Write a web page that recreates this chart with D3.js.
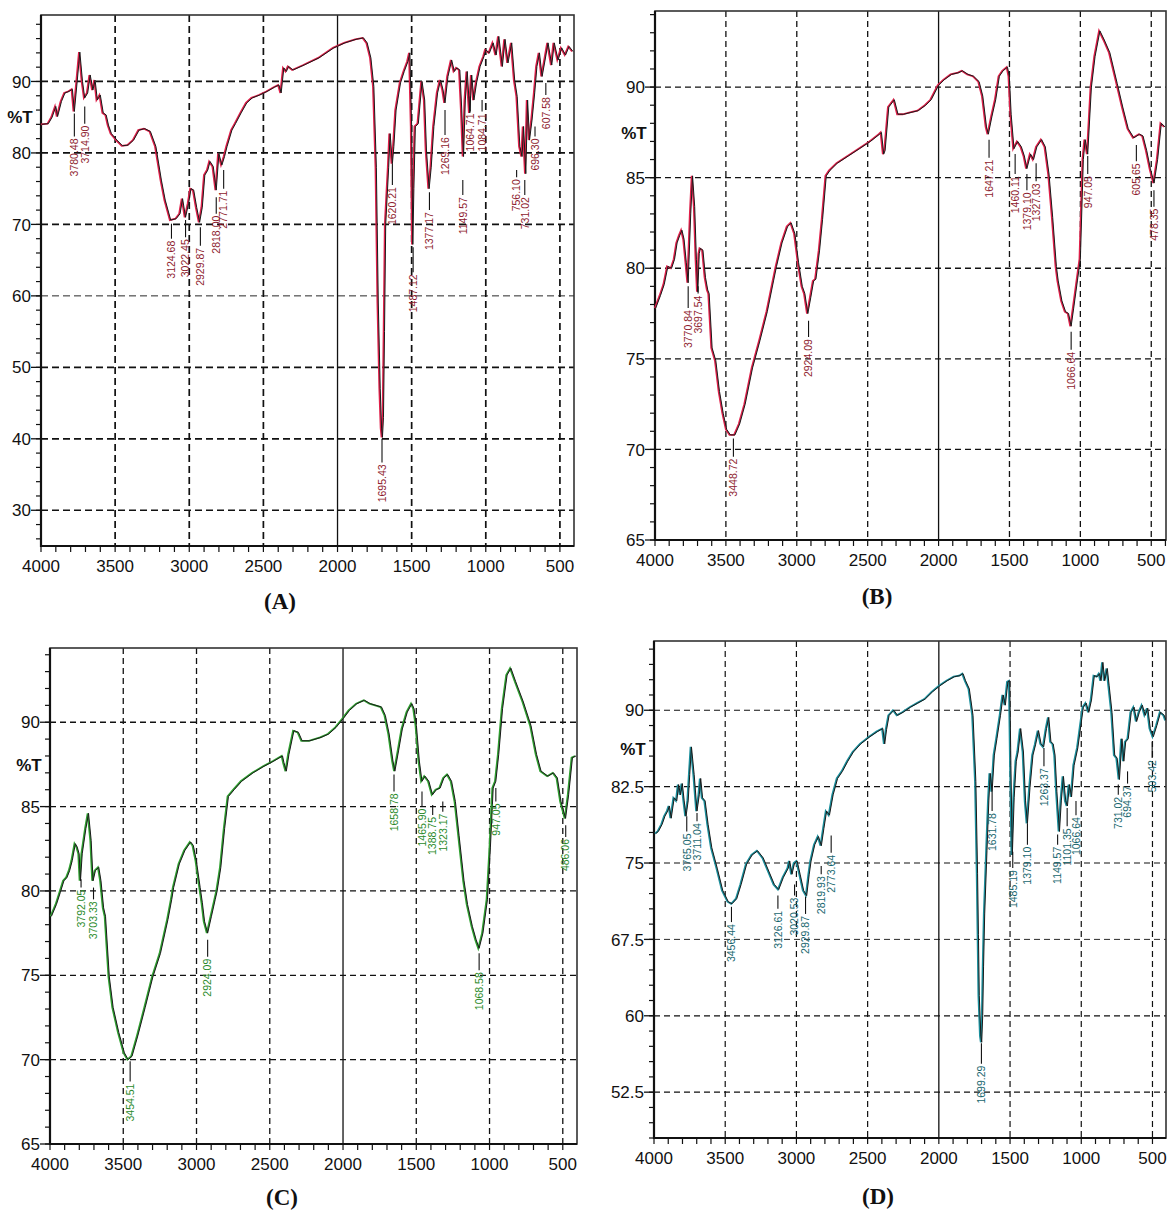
<!DOCTYPE html>
<html>
<head>
<meta charset="utf-8">
<script src="https://cdn.jsdelivr.net/npm/d3@7"></script>
<style>
    body { margin: 0; background: #fff; }
    svg { display: block; background: #fff; }
    .axis-label { font-family: "Liberation Sans Narrow", "Arial Narrow", "Liberation Sans", sans-serif; font-size: 17px; fill: #111; }
    .pct-label { font-family: "Liberation Sans Narrow", "Arial Narrow", "Liberation Sans", sans-serif; font-size: 17px; font-weight: bold; fill: #111; }
    .peak-label { font-family: "Liberation Sans", Arial, sans-serif; font-size: 10.5px; }
    .panel-title { font-family: "Liberation Serif", "Times New Roman", serif; font-size: 23px; font-weight: bold; fill: #111; }
</style>
</head>
<body>
<svg id="chart" width="1167" height="1214"></svg>
<script>
// wavenumber (cm-1), %T
const spectrumA = [[3995,84.0],[3950,84.1],[3925,85],[3900,86.5],[3888,85.1],[3862,87.2],[3838,88.4],[3812,88.6],[3788,88.9],[3775,85.8],[3755,90.2],[3738,94.1],[3720,90],[3705,87.7],[3685,88.4],[3668,90.9],[3650,88.8],[3635,90.2],[3620,87.4],[3600,88.1],[3580,85.6],[3560,85.3],[3545,83.9],[3525,82.7],[3488,81.8],[3450,81],[3412,81.1],[3375,81.8],[3338,83.2],[3300,83.4],[3262,83],[3225,80.9],[3188,76.2],[3162,73.4],[3125,70.6],[3088,70.8],[3062,71.5],[3045,73.6],[3025,71],[3005,72.9],[2988,75],[2970,74.8],[2950,72.4],[2930,70.3],[2912,72.4],[2895,76.9],[2875,77.6],[2860,78.8],[2838,78.1],[2818,74.8],[2800,79.9],[2780,78.3],[2762,79.5],[2745,80.9],[2712,83.2],[2688,84.1],[2650,85.6],[2612,87],[2575,87.7],[2525,88.1],[2475,88.6],[2425,89.2],[2395,89.5],[2380,88.4],[2362,91.9],[2345,91.4],[2330,92.1],[2300,91.6],[2225,92.3],[2125,93.3],[2025,94.7],[1950,95.4],[1875,95.9],[1825,96.1],[1800,95.4],[1775,93.3],[1755,89.3],[1738,78],[1725,59],[1712,47],[1703,41.5],[1697,40.2],[1690,43],[1683,55],[1675,70],[1655,78],[1645,82.7],[1630,78.5],[1620,80.9],[1605,86],[1575,89.8],[1550,91.4],[1525,92.8],[1512,94],[1500,83.7],[1492,67.2],[1485,75],[1475,83.7],[1455,84.1],[1430,90],[1412,87.4],[1400,80.4],[1382,75],[1368,78],[1350,83.7],[1325,88.4],[1305,90.2],[1288,88.8],[1275,87],[1255,90.7],[1230,93],[1212,91.4],[1195,91.9],[1175,91.6],[1162,86],[1150,79.5],[1138,87.4],[1125,91.4],[1108,85.6],[1095,90.9],[1080,87.4],[1062,89.8],[1038,92.1],[1012,93.5],[1000,94.4],[975,94],[950,95.4],[930,93.7],[912,96.3],[888,92.1],[870,95.9],[850,92.6],[825,95.4],[805,90.2],[788,87.9],[770,80.9],[755,79.5],[745,83.7],[730,77.1],[718,87.4],[705,81.8],[688,84.6],[670,88.4],[655,92.1],[638,94],[620,90.7],[600,93],[580,95.4],[555,92.3],[538,95.4],[512,93],[488,94.7],[462,93.7],[438,94.9],[412,94.2]];

const spectrumB = [[3995,77.8],[3961,78.5],[3935,79.1],[3909,80.1],[3883,80],[3862,80.5],[3844,81.4],[3826,81.8],[3810,82.1],[3795,81.6],[3779,80.3],[3766,79.2],[3748,83],[3735,85.1],[3720,83.4],[3708,80.5],[3698,78.7],[3688,80.8],[3680,81.1],[3662,81],[3644,79.5],[3628,78.8],[3618,78.6],[3597,75.6],[3571,74.9],[3545,73.2],[3519,72],[3494,71.1],[3468,70.8],[3436,70.8],[3403,71.4],[3364,72.5],[3312,74.5],[3260,76],[3208,77.6],[3164,79.3],[3143,80.1],[3104,81.4],[3065,82.3],[3039,82.5],[3013,81.9],[2987,80.3],[2961,79],[2943,78.6],[2922,77.5],[2901,78.4],[2881,79.3],[2865,79.4],[2839,81],[2818,82.7],[2792,85.1],[2766,85.4],[2714,85.8],[2636,86.2],[2558,86.6],[2481,87],[2416,87.4],[2403,87.5],[2387,86.3],[2377,86.5],[2351,88.9],[2312,89.3],[2286,88.5],[2247,88.5],[2195,88.6],[2143,88.7],[2091,89],[2052,89.3],[2000,90.1],[1961,90.4],[1909,90.7],[1857,90.8],[1831,90.9],[1792,90.7],[1753,90.6],[1714,90.3],[1688,89.5],[1662,87.8],[1649,87.4],[1623,88.4],[1597,89.3],[1571,90.6],[1545,90.9],[1514,91.1],[1501,90.6],[1488,88.5],[1468,86.6],[1442,87],[1416,86.7],[1395,86.2],[1377,85.5],[1351,86.3],[1330,86],[1307,86.7],[1273,87.1],[1247,86.7],[1221,85.2],[1195,82.8],[1169,80.1],[1156,79.3],[1130,78.2],[1104,77.6],[1083,77.5],[1065,76.8],[1047,77.8],[1021,79.3],[1000,80.5],[979,86],[966,87.1],[948,86.3],[922,90],[896,91.7],[862,93.1],[831,92.6],[792,91.9],[740,90.2],[701,88.9],[662,87.7],[623,87.2],[582,87.4],[558,87.3],[532,86.5],[506,85.5],[480,84.7],[455,86],[429,88],[403,87.8]];

const spectrumC = [[3990,78.5],[3956,79.2],[3930,79.9],[3905,80.6],[3884,80.8],[3866,81.2],[3848,81.8],[3827,82.8],[3814,82.6],[3801,82.2],[3792,80.6],[3780,82.2],[3755,83.7],[3737,84.6],[3719,83],[3706,80.6],[3690,81.2],[3667,81.4],[3652,80.6],[3634,79],[3621,78.5],[3595,74.9],[3569,73.1],[3530,71.6],[3492,70.4],[3466,70],[3440,70.2],[3401,71.4],[3350,73.1],[3298,74.9],[3246,76.3],[3195,78.3],[3169,79.5],[3156,80.2],[3117,81.6],[3079,82.4],[3040,82.9],[3022,82.7],[3001,81.8],[2975,80.2],[2960,79.3],[2945,78.2],[2924,77.5],[2898,78.5],[2872,79.5],[2859,80],[2834,81.4],[2808,83.7],[2782,85.6],[2743,86],[2692,86.5],[2614,87],[2537,87.4],[2472,87.7],[2413,88],[2403,87.6],[2387,87.1],[2369,88.1],[2335,89.5],[2304,89.4],[2279,88.9],[2227,88.9],[2150,89.1],[2098,89.3],[2047,89.7],[2000,90.2],[1956,90.7],[1905,91.1],[1853,91.3],[1814,91.1],[1775,91],[1737,90.9],[1711,90.4],[1685,89.3],[1659,87.7],[1646,87.1],[1621,88.3],[1595,89.6],[1561,90.6],[1530,91.1],[1515,90.8],[1499,89.8],[1479,87.7],[1461,86.5],[1440,86.8],[1414,86.5],[1389,85.7],[1363,86],[1337,86.1],[1311,86.7],[1285,86.9],[1259,86.5],[1233,85.3],[1208,83.3],[1174,80.6],[1150,79.2],[1117,77.9],[1091,77.1],[1071,76.6],[1045,77.5],[1014,79.5],[994,82.6],[975,86.1],[957,86.5],[937,88.1],[911,90.8],[880,92.8],[854,93.2],[821,92.4],[769,91.2],[717,89.8],[679,88.1],[648,87.1],[601,86.8],[563,87],[537,86.7],[512,85.3],[481,84.3],[460,85.7],[434,87.9],[410,88]];

const spectrumD = [[3987,77.9],[3969,78.1],[3943,78.8],[3923,79.6],[3904,80.1],[3892,80.6],[3879,79.4],[3858,81.4],[3840,81.1],[3827,82.7],[3814,81.7],[3801,82.8],[3788,81.1],[3775,79.6],[3760,81.1],[3749,83.7],[3737,86.4],[3718,83.7],[3698,80.1],[3682,81.7],[3672,83.3],[3659,81.4],[3641,81.1],[3620,78.8],[3594,76.5],[3556,74.5],[3517,72.3],[3478,71.2],[3452,71],[3419,71.5],[3388,72.9],[3349,74.9],[3310,75.8],[3272,76.2],[3233,75.5],[3194,74.2],[3155,72.9],[3124,72.4],[3091,73.6],[3057,74.5],[3047,75.2],[3031,73.9],[3013,75],[2995,75.2],[2974,73.9],[2949,72.3],[2928,71.8],[2910,73.9],[2897,75.2],[2871,76.8],[2845,77.6],[2825,76.7],[2807,78.4],[2788,80.1],[2768,79.7],[2742,81.7],[2711,83.3],[2677,84],[2639,85],[2600,85.9],[2548,86.7],[2484,87.4],[2432,87.9],[2393,88.2],[2380,86.7],[2367,88.1],[2349,89.5],[2329,89.8],[2316,90],[2290,89.5],[2251,89.8],[2199,90.3],[2148,90.7],[2096,91.1],[2045,91.8],[1993,92.4],[1941,92.9],[1890,93.3],[1851,93.4],[1830,93.6],[1812,92.9],[1786,92.1],[1760,89.5],[1740,83],[1728,74],[1722,68],[1716,62],[1705,58],[1699,57.4],[1692,60],[1686,64.8],[1678,70],[1662,76.2],[1649,81.1],[1639,83.8],[1626,82],[1610,85.6],[1592,87.2],[1567,89.5],[1548,91.5],[1533,90.5],[1515,92.8],[1502,92.9],[1494,84.6],[1484,75.8],[1471,81.4],[1456,85],[1443,85.9],[1425,88.2],[1406,85.9],[1391,81.1],[1378,78.9],[1360,82.4],[1339,85.6],[1321,86.6],[1300,88],[1282,86.7],[1264,86.4],[1244,88.2],[1228,89.3],[1213,86.9],[1197,86.7],[1184,85.6],[1171,82],[1153,78.1],[1140,81.1],[1125,83.5],[1109,81.1],[1097,80.6],[1083,82.7],[1068,81.5],[1050,84.6],[1024,86.3],[1003,88.5],[985,90.3],[965,90.7],[947,89.8],[928,91],[908,93.4],[887,93.3],[872,93.6],[861,92.9],[848,94.7],[835,92.9],[817,94.1],[804,92.4],[784,89.8],[765,85.6],[748,85.3],[732,83.2],[714,87.2],[701,85],[688,86.9],[670,87.2],[649,89.8],[629,90.3],[611,88.9],[592,89.8],[571,90.5],[551,89.5],[533,90.2],[515,88.2],[494,87.4],[469,88.5],[443,89.8],[417,89.5],[405,89]];

// peak label, wavenumber of its leader line, %T at top and bottom of the leader
const peaksA = [['3780.48',3775,85.5,82.3],['3714.90',3705,86.5,84.1],['3124.68',3120,70.1,68.0],['3022.45',3025,70.6,68.2],['2929.87',2925,69.6,67.0],['2818.00',2818,73.8,71.5],['2771.71',2768,77.6,75.0],['1695.43',1700,40.0,36.7],['1620.21',1630,78.5,75.5],['1487.12',1490,66.8,63.3],['1377.17',1380,74.5,72.0],['1269.16',1275,86.0,82.5],['1149.57',1155,76.2,74.1],['1064.71',1105,87.9,85.8],['1084.71',1025,87.4,85.8],['756.10',792,77.6,76.6],['731.02',737,76.2,74.1],['696.30',668,83.7,82.3],['607.58',595,89.8,88.1]];
const peaksB = [['3770.84',3766,79.0,77.8],['3697.54',3696,79.0,78.6],['3448.72',3447,70.6,69.6],['2924.09',2917,77.1,76.2],['1647.21',1644,87.1,86.1],['1460.11',1460,86.3,85.2],['1379.10',1377,85.2,84.3],['1327.03',1312,85.8,84.8],['1066.64',1065,76.5,75.5],['947.05',948,86.2,85.2],['605.65',605,86.8,85.9],['478.35',481,84.3,83.4]];
const peaksC = [['3792.05',3788,80.7,80.2],['3703.33',3703,80.2,79.5],['3454.51',3453,69.9,68.7],['2924.09',2924,77.1,76.1],['1658.78',1652,86.9,85.9],['1465.90',1461,85.9,85.0],['1388.75',1388,85.1,84.5],['1323.17',1319,85.3,84.7],['1068.58',1071,76.3,75.3],['947.05',957,86.1,85.3],['486.06',480,83.9,83.2]];
const peaksD = [['3765.05',3770,79.6,78.1],['3711.04',3698,79.9,79.1],['3456.44',3456,70.7,69.2],['3126.61',3130,71.8,70.5],['3020.53',3013,72.9,71.8],['2929.87',2936,71.7,70.0],['2819.93',2826,74.7,73.9],['2773.64',2756,77.7,76.0],['1699.29',1701,57.3,55.3],['1631.78',1626,82.0,80.1],['1485.19',1481,76.1,74.5],['1379.10',1378,78.9,76.8],['1263.37',1262,86.3,84.5],['1149.57',1166,77.8,76.8],['1101.35',1099,80.4,78.6],['1066.64',1037,81.1,79.7],['731.02',740,82.7,81.7],['694.37',675,84.0,82.8],['503.42',502,86.9,85.3]];

// tick labels
const xTickLabels = [4000, 3500, 3000, 2500, 2000, 1500, 1000, 500];
const yTicksA = [30, 40, 50, 60, 70, 80, 90];
const yTicksB = [65, 70, 75, 80, 85, 90];
const yTicksC = [65, 70, 75, 80, 85, 90];
const yTicksD = [52.5, 60, 67.5, 75, 82.5, 90];

const panels = [
    { title: '(A)', data: spectrumA, peaks: peaksA, yTicks: yTicksA, minorStep: 2,
      box: [41, 15, 574, 546], xDomain: [4000, 405], yDomain: [25, 99.3],
      line: '#e0204a', ink: '#8e1b2e', pctAt: 85, titlePos: [280, 609],
      dash: '7,4', gridW: 1.7, thinGrid: [60] },
    { title: '(B)', data: spectrumB, peaks: peaksB, yTicks: yTicksB, minorStep: 1,
      box: [655, 11, 1166, 540], xDomain: [4000, 396], yDomain: [65, 94.2],
      line: '#e0204a', ink: '#8e1b2e', pctAt: 87.5, titlePos: [877, 604],
      dash: '6,4', gridW: 1.3, thinGrid: [] },
    { title: '(C)', data: spectrumC, peaks: peaksC, yTicks: yTicksC, minorStep: 1,
      box: [50, 648, 577, 1144], xDomain: [4000, 403], yDomain: [65, 94.4],
      line: '#2fa030', ink: '#2a8a2a', pctAt: 87.5, titlePos: [282, 1205],
      dash: '6,4', gridW: 1.3, thinGrid: [] },
    { title: '(D)', data: spectrumD, peaks: peaksD, yTicks: yTicksD, minorStep: 1.5,
      box: [654, 641, 1166, 1138], xDomain: [4000, 405], yDomain: [48, 96.8],
      line: '#1b8f9c', ink: '#17666e', pctAt: 86.25, titlePos: [878, 1204],
      dash: '6,4', gridW: 1.2, thinGrid: [67.5] }
];

const svg = d3.select('#chart');

panels.forEach(drawPanel);

function drawPanel(p) {
    const [left, top, right, bottom] = p.box;
    const x = d3.scaleLinear().domain(p.xDomain).range([left, right]);
    const y = d3.scaleLinear().domain(p.yDomain).range([bottom, top]);
    const g = svg.append('g');

    // grid
    const vGrid = xTickLabels.filter(v => v < p.xDomain[0] && v > p.xDomain[1]);
    g.selectAll('.vgrid')
        .data(vGrid)
        .enter()
        .append('line')
            .attr('x1', d => x(d)).attr('x2', d => x(d))
            .attr('y1', top).attr('y2', bottom)
            .attr('stroke', '#111')
            .attr('stroke-width', d => d === 2000 ? 1.3 : p.gridW)
            .attr('stroke-dasharray', d => d === 2000 ? null : p.dash);

    g.selectAll('.hgrid')
        .data(p.yTicks.filter(v => v > p.yDomain[0]))
        .enter()
        .append('line')
            .attr('x1', left).attr('x2', right)
            .attr('y1', d => y(d)).attr('y2', d => y(d))
            .attr('stroke', '#111')
            .attr('stroke-width', d => p.thinGrid.includes(d) ? 0.9 : p.gridW)
            .attr('stroke-dasharray', p.dash);

    // frame
    g.append('rect')
        .attr('x', left).attr('y', top)
        .attr('width', right - left).attr('height', bottom - top)
        .attr('fill', 'none')
        .attr('stroke', '#333')
        .attr('stroke-width', 1.6);
    g.append('path')
        .attr('d', `M${left},${top}V${bottom}H${right}`)
        .attr('fill', 'none')
        .attr('stroke', '#111')
        .attr('stroke-width', 2.2);

    // x ticks every 100
    const xMinor = d3.range(4000, p.xDomain[1], -100);
    g.selectAll('.xtick')
        .data(xMinor)
        .enter()
        .append('line')
            .attr('x1', d => x(d)).attr('x2', d => x(d))
            .attr('y1', bottom).attr('y2', bottom + 6)
            .attr('stroke', '#111')
            .attr('stroke-width', 1.2);

    g.selectAll('.xlabel')
        .data(xTickLabels)
        .enter()
        .append('text')
            .classed('axis-label', true)
            .attr('x', d => x(d))
            .attr('y', bottom + 26)
            .attr('text-anchor', 'middle')
            .text(d => d);

    // y ticks
    const yMinor = d3.range(p.yTicks[0] - p.minorStep * Math.floor((p.yTicks[0] - p.yDomain[0]) / p.minorStep),
                            p.yDomain[1], p.minorStep);
    g.selectAll('.ytick')
        .data(yMinor)
        .enter()
        .append('line')
            .attr('x1', left - 5).attr('x2', left)
            .attr('y1', d => y(d)).attr('y2', d => y(d))
            .attr('stroke', '#111')
            .attr('stroke-width', 1.2);

    g.selectAll('.ymajor')
        .data(p.yTicks)
        .enter()
        .append('line')
            .attr('x1', left - 10).attr('x2', left)
            .attr('y1', d => y(d)).attr('y2', d => y(d))
            .attr('stroke', '#111')
            .attr('stroke-width', 1.3);

    g.selectAll('.ylabel')
        .data(p.yTicks)
        .enter()
        .append('text')
            .classed('axis-label', true)
            .attr('x', left - 10)
            .attr('y', d => y(d))
            .attr('dy', '0.36em')
            .attr('text-anchor', 'end')
            .text(d => d);

    g.append('text')
        .classed('pct-label', true)
        .attr('x', left - 21)
        .attr('y', y(p.pctAt))
        .attr('dy', '0.36em')
        .attr('text-anchor', 'middle')
        .text('%T');

    // spectrum: coloured trace under a black one
    const clipId = 'clip' + p.title.replace(/\W/g, '');
    g.append('clipPath').attr('id', clipId)
        .append('rect')
            .attr('x', left).attr('y', top)
            .attr('width', right - left).attr('height', bottom - top);

    const lineGen = d3.line().x(d => x(d[0])).y(d => y(d[1]));
    g.append('path')
        .datum(p.data)
        .attr('clip-path', `url(#${clipId})`)
        .attr('d', lineGen)
        .attr('transform', 'translate(-0.9,0)')
        .attr('fill', 'none')
        .attr('stroke', p.line)
        .attr('stroke-width', 1.8);
    g.append('path')
        .datum(p.data)
        .attr('clip-path', `url(#${clipId})`)
        .attr('d', lineGen)
        .attr('fill', 'none')
        .attr('stroke', '#1a1a1a')
        .attr('stroke-width', 1);

    // peak labels
    const peaks = g.selectAll('.peak')
        .data(p.peaks)
        .enter()
        .append('g');

    peaks.append('line')
        .attr('x1', d => x(d[1])).attr('x2', d => x(d[1]))
        .attr('y1', d => y(d[2])).attr('y2', d => y(d[3]))
        .attr('stroke', '#111')
        .attr('stroke-width', 1.1);

    peaks.append('text')
        .classed('peak-label', true)
        .attr('transform', d => `translate(${x(d[1])},${y(d[3]) + 2}) rotate(-90)`)
        .attr('dy', '0.36em')
        .attr('text-anchor', 'end')
        .attr('fill', p.ink)
        .text(d => d[0]);

    svg.append('text')
        .classed('panel-title', true)
        .attr('x', p.titlePos[0])
        .attr('y', p.titlePos[1])
        .attr('text-anchor', 'middle')
        .text(p.title);
}
</script>
</body>
</html>
